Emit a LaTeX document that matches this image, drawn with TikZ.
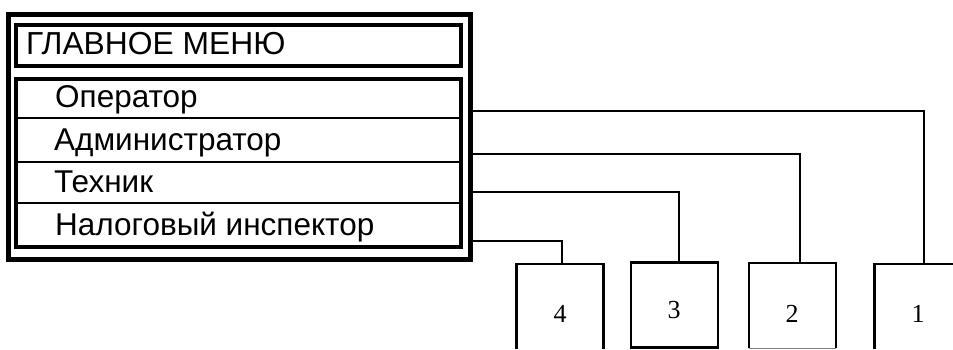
\documentclass[tikz,border=0pt]{standalone}
\usepackage{fontspec}
\setmainfont{Liberation Sans}
\newfontfamily\numfont{Liberation Serif}
\begin{document}
\begin{tikzpicture}[x=1pt,y=-1pt,
  frameline/.style={line width=5pt},
  boxline/.style={line width=4pt},
  sepline/.style={line width=2pt},
  conn/.style={line width=2.3pt},
  targetbox/.style={draw=none,minimum width=87pt,minimum height=85pt,inner sep=0pt},
  edge3/.style={line width=2.5pt},
  itemtxt/.style={anchor=base west,inner sep=0pt,font=\fontsize{31.5}{36}\selectfont},
  titletxt/.style={anchor=base west,inner sep=0pt,font=\fontsize{31.8}{36}\selectfont},
  numtxt/.style={anchor=base,inner sep=0pt,font=\numfont\fontsize{26}{30}\selectfont}]
\useasboundingbox (0,0) rectangle (953,350);
% menu frames
\draw[frameline] (8.5,15) rectangle (470.5,259.5);
\draw[boxline] (16,25) rectangle (460.5,66);
\draw[boxline] (16,79) rectangle (460.5,247);
\draw[sepline] (16,118) -- (460.5,118);
\draw[sepline] (16,162) -- (460.5,162);
\draw[sepline] (16,203) -- (460.5,203);
% texts
\node[titletxt] (title) at (26,55) {ГЛАВНОЕ МЕНЮ};
\node[itemtxt] (op) at (55,108) {Оператор};
\node[itemtxt] (adm) at (54,150) {Администратор};
\node[itemtxt] (tech) at (54,193) {Техник};
\node[itemtxt] (nal) at (55,235) {Налоговый инспектор};
% target boxes
\node[targetbox] (b4) at (560,306.5) {};
\node[targetbox] (b3) at (674.5,305) {};
\node[targetbox] (b2) at (792.5,305.5) {};
\node[targetbox] (b1) at (918,306.5) {};
\draw[edge3] (b4.south west) -- (b4.north west) -- (b4.north east) -- (b4.south east);
\draw[edge3] (b3.south west) rectangle (b3.north east);
\draw[edge3] (b2.south west) -- (b2.north west) -- (b2.north east) -- (b2.south east);
\draw[line width=1pt,gray] (b2.south west) -- (b2.south east);
\draw[edge3] (b1.south west) -- (b1.north west) -- (b1.north east) -- (b1.south east);
\node[numtxt] (n4) at (560,322) {4};
\node[numtxt] (n3) at (674,318) {3};
\node[numtxt] (n2) at (792,322) {2};
\node[numtxt] (n1) at (918,322) {1};
% connectors
\coordinate (s1) at (473,111);
\coordinate (s2) at (473,154);
\coordinate (s3) at (473,192);
\coordinate (s4) at (473,241);
\coordinate (t1) at (924,264);
\coordinate (t2) at (800,263);
\coordinate (t3) at (679,262.5);
\coordinate (t4) at (562,264);
\draw[conn] (s1) -| (t1);
\draw[conn] (s2) -| (t2);
\draw[conn] (s3) -| (t3);
\draw[conn] (s4) -| (t4);
\end{tikzpicture}
\end{document}
